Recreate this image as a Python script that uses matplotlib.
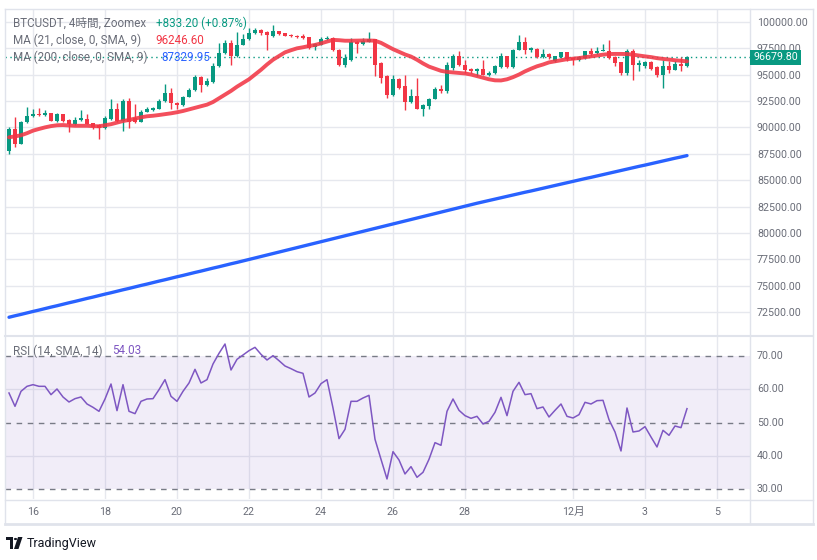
import matplotlib
matplotlib.use('Agg')
import matplotlib.pyplot as plt
import numpy as np
from matplotlib.patches import Rectangle, Polygon, Circle
from matplotlib.lines import Line2D

# ---------------- data (4h candles, BTCUSDT) ----------------
opens = [87810, 89840, 88440, 90530, 91090, 91310, 91160, 91340, 90620, 91250,
         90720, 90340, 90690, 90780, 90380, 90220, 89910, 90780, 91780, 90620,
         92500, 90840, 90530, 91500, 91660, 91780, 92500, 93220, 92340, 92090,
         92910, 93530, 94780, 94000, 94280, 95780, 97030, 97970, 96720, 97810,
         98340, 98910, 99220, 99060, 98660, 99090, 98910, 98780, 98690, 98620,
         98530, 97590, 97810, 98340, 98440, 97340, 95940, 96340, 98060, 97910,
         98120, 98340, 96090, 94840, 93030, 94590, 93910, 92410, 92970, 91780,
         92030, 92720, 93660, 93440, 95620, 96720, 95940, 95560, 95310, 95560,
         95000, 95160, 95720, 96720, 95690, 97340, 98120, 97340, 97410, 96660,
         96910, 96250, 96660, 97090, 96560, 96340, 96560, 97190, 97030, 97250,
         97250, 96660, 96160, 95160, 97190, 95940, 95840, 96160, 95720, 95000,
         95780, 95470, 96000, 95780]
highs = [90000, 90940, 90620, 91970, 91780, 91870, 91660, 91400, 91400, 91310,
         90810, 90940, 91660, 91250, 90440, 90280, 91090, 92660, 92340, 92720,
         92810, 92190, 91600, 91910, 91940, 92660, 94060, 93690, 92400, 92970,
         93750, 95000, 94840, 94690, 96090, 97940, 98280, 98280, 99060, 98810,
         99380, 99380, 99290, 99160, 99690, 99160, 98970, 98840, 98780, 98880,
         98560, 98000, 98590, 98660, 98530, 97440, 96900, 98440, 98220, 98440,
         99060, 98400, 96160, 94910, 95000, 94660, 94970, 93590, 94690, 92190,
         92780, 93780, 93970, 96160, 96900, 97250, 96340, 95620, 95620, 96340,
         95310, 95940, 97030, 96780, 97440, 98750, 98590, 97620, 97470, 97410,
         97000, 96780, 97160, 97160, 96620, 96720, 97250, 97470, 97590, 97910,
         98280, 96720, 96220, 97410, 97410, 96400, 96280, 96250, 95780, 96340,
         96250, 96250, 96660, 96780]
lows = [87500, 88120, 88400, 90440, 91000, 91120, 91090, 90560, 90530, 90470,
        89530, 90250, 90600, 90280, 89840, 88910, 89840, 90720, 90530, 89690,
        89970, 90440, 90470, 91440, 91590, 91720, 92440, 91720, 91720, 92030,
        92840, 93470, 93340, 93910, 94220, 95720, 96970, 95880, 96660, 97750,
        98280, 98840, 98780, 97340, 98590, 98780, 98620, 98560, 98470, 98410,
        97440, 97340, 97750, 98250, 97220, 95780, 95700, 96280, 97030, 97840,
        98060, 94840, 94220, 92810, 92970, 93660, 91660, 92340, 91720, 91030,
        91720, 92660, 93280, 93220, 95470, 95780, 95160, 95190, 94840, 94940,
        94900, 95090, 95660, 95620, 95620, 97280, 96940, 97090, 96590, 96590,
        96500, 96160, 96600, 96280, 95880, 96280, 96500, 96720, 96970, 97190,
        96500, 95780, 94940, 94940, 94470, 95310, 95620, 95470, 94780, 93690,
        95160, 95400, 95310, 95720]
closes = [89840, 88440, 90470, 91090, 91310, 91190, 91340, 90620, 91250, 90620,
          90310, 90720, 90840, 90310, 90000, 89910, 90840, 91780, 90620, 92500,
          90470, 90530, 91470, 91720, 91870, 92500, 93220, 92340, 92090, 92910,
          93530, 94780, 93970, 94380, 95780, 97030, 97970, 96720, 97810, 98340,
          98910, 99220, 98910, 98750, 99090, 98880, 98690, 98620, 98530, 98470,
          97500, 97910, 98340, 98470, 97280, 95940, 96560, 98120, 97910, 98220,
          98340, 95940, 94690, 93030, 94590, 93750, 92410, 92970, 91780, 92090,
          92720, 93660, 93440, 95940, 96720, 95940, 95470, 95310, 95560, 95000,
          95190, 95780, 96720, 95690, 97340, 98120, 97340, 97530, 96660, 96940,
          96690, 96720, 97090, 96470, 96410, 96660, 97190, 96940, 97250, 97310,
          96560, 96090, 95160, 97190, 95940, 96090, 96160, 95530, 95000, 95780,
          95470, 96000, 95780, 96680]
ma21 = [89060, 89150, 89250, 89450, 89690, 89850, 90000, 90120, 90200, 90220,
        90180, 90150, 90150, 90150, 90120, 90100, 90200, 90300, 90450, 90600,
        90700, 90830, 90950, 91050, 91100, 91170, 91250, 91330, 91430, 91550,
        91700, 91850, 92000, 92150, 92400, 92750, 93100, 93450, 93850, 94200,
        94550, 95000, 95450, 95950, 96400, 96750, 97100, 97300, 97480, 97580,
        97700, 97800, 97950, 98120, 98280, 98250, 98200, 98200, 98210, 98220,
        98220, 98200, 98000, 97700, 97400, 97150, 96900, 96700, 96400, 96050,
        95750, 95550, 95350, 95250, 95200, 95150, 95100, 95000, 94850, 94700,
        94550, 94450, 94440, 94550, 94750, 95000, 95300, 95550, 95780, 95950,
        96150, 96250, 96350, 96450, 96500, 96560, 96640, 96720, 96800, 96880,
        96940, 96950, 96950, 96940, 96880, 96800, 96720, 96650, 96550, 96480,
        96420, 96350, 96300, 96247]
ma200 = [72030, 72170, 72300, 72440, 72580, 72710, 72850, 72990, 73120, 73260,
         73400, 73530, 73670, 73810, 73940, 74080, 74220, 74350, 74490, 74630,
         74760, 74900, 75040, 75170, 75310, 75450, 75580, 75720, 75860, 75990,
         76130, 76270, 76400, 76540, 76680, 76810, 76950, 77090, 77220, 77360,
         77500, 77640, 77780, 77920, 78060, 78200, 78340, 78480, 78620, 78760,
         78900, 79040, 79180, 79320, 79460, 79600, 79740, 79880, 80020, 80160,
         80300, 80440, 80580, 80720, 80860, 81000, 81140, 81280, 81420, 81560,
         81700, 81840, 81980, 82120, 82260, 82400, 82540, 82680, 82820, 82950,
         83080, 83210, 83340, 83470, 83600, 83730, 83860, 83980, 84110, 84240,
         84370, 84500, 84630, 84760, 84890, 85020, 85150, 85270, 85400, 85530,
         85660, 85790, 85920, 86050, 86180, 86310, 86430, 86560, 86690, 86820,
         86950, 87080, 87200, 87330]
rsi = [58.9, 54.9, 59.4, 60.9, 61.4, 60.9, 60.9, 58.4, 60.1, 57.7,
       56.2, 57.2, 57.7, 55.6, 54.6, 53.4, 57.1, 61.6, 53.6, 61.4,
       53.4, 52.7, 56.4, 57.1, 57.2, 59.9, 62.9, 57.9, 56.4, 59.4,
       61.9, 66.0, 61.9, 62.9, 67.6, 70.8, 73.6, 65.8, 69.0, 70.3,
       71.6, 72.6, 70.5, 68.8, 70.1, 68.6, 67.0, 66.2, 65.3, 64.8,
       57.7, 58.9, 61.7, 62.9, 54.4, 45.2, 48.0, 56.4, 56.4, 57.4,
       58.2, 45.0, 39.0, 33.1, 41.3, 38.8, 34.6, 36.8, 33.6, 35.1,
       39.0, 44.0, 43.2, 53.4, 57.1, 53.7, 52.1, 51.3, 51.9, 49.6,
       50.4, 53.1, 57.6, 52.1, 59.4, 62.1, 58.4, 58.7, 54.2, 54.7,
       51.7, 53.7, 55.6, 51.9, 51.4, 52.4, 56.1, 55.6, 56.6, 56.7,
       50.9, 47.2, 41.5, 54.4, 47.2, 47.5, 48.8, 45.7, 42.7, 47.7,
       46.2, 49.0, 48.5, 54.2]
last_price = 96679.80
tick_labels = ['16', '18', '20', '22', '24', '26', '28', '12月', '3', '5']
price_ticks = [72500, 75000, 77500, 80000, 82500, 85000, 87500, 90000, 92500, 95000, 97500, 100000]
rsi_ticks = [30, 40, 50, 60, 70]

# ---------------- style ----------------
GREEN = '#089981'
RED = '#f23645'
BLUE = '#2962ff'
PURPLE = '#7e57c2'
GRID = '#e6e8ee'
TXT = '#6a6d78'
FAM = ['Roboto', 'Noto Sans CJK JP', 'DejaVu Sans']
plt.rcParams['font.family'] = FAM

W, H = 817, 560
fig = plt.figure(figsize=(W / 100, H / 100), dpi=100)
fig.patch.set_facecolor('white')

def fx(x):
    return x / W

def fy(y):
    return 1 - y / H

# candle i sits at pixel 9 + 6 i ; ticks (16th 00:00 is candle 4, 6 candles/day)
tick_pos = [4, 16, 28, 40, 52, 64, 76, 94, 106, 118]
xlim = (-4 / 6, 741 / 6)

ax = fig.add_axes([fx(5), fy(335), fx(750) - fx(5), fy(9) - fy(335)])
axr = fig.add_axes([fx(5), fy(499), fx(750) - fx(5), fy(336) - fy(499)])

for a in (ax, axr):
    a.set_xlim(*xlim)
    for s in a.spines.values():
        s.set_visible(False)
    a.set_xticks(tick_pos)
    a.grid(True, color=GRID, lw=1, zorder=0)
    a.set_axisbelow(True)
    a.yaxis.tick_right()
    a.tick_params(axis='y', length=0, pad=5, labelsize=7.7, labelcolor=TXT)

# main pane
sc = 0.010567
ax.set_ylim(100000 - (335 - 21.7) / sc, 100000 + (21.7 - 9) / sc)
ax.set_yticks(price_ticks)
ax.set_yticklabels([f'{v:.2f}' for v in price_ticks])
ax.tick_params(axis='x', length=0, labelbottom=False)

idx = np.arange(len(opens))
o = np.array(opens, float)
c = np.array(closes, float)
col = np.where(c >= o, GREEN, RED)
ax.vlines(idx, lows, highs, colors=col, lw=1, zorder=2)
ax.bar(idx, np.maximum(np.abs(c - o), 90), bottom=np.minimum(o, c), width=0.72,
       color=col, lw=0, zorder=3)
ax.plot(idx, ma200, color=BLUE, lw=2.4, zorder=4, solid_capstyle='round')
ax.plot(idx, ma21, color=RED, lw=2.8, alpha=0.88, zorder=4, solid_capstyle='round')
ax.axhline(last_price, color=GREEN, lw=1, ls=(0, (1, 2.5)), zorder=1)

# RSI pane
rs = 133.3 / 40
axr.set_ylim(30 - (499 - 489.3) / rs, 70 + (356 - 336) / rs)
axr.set_yticks([40, 60])
axr.set_yticklabels([])
axr.axhspan(30, 70, color=PURPLE, alpha=0.1, lw=0, zorder=1)
for lv in (70, 50, 30):
    axr.axhline(lv, color='#787b86', lw=1, ls=(0, (4, 4)), zorder=2)
axr.plot(idx, rsi, color=PURPLE, lw=1.1, zorder=3)
axr.set_xticklabels(tick_labels)
axr.tick_params(axis='x', length=0, pad=6, labelsize=7.7, labelcolor=TXT)
for v in rsi_ticks:
    ypix = 356 + (70 - v) * rs
    fig.text(fx(757), fy(ypix), f'{v:.2f}', fontsize=7.7, color=TXT, va='center', ha='left')

# frame lines
def fline(x0, y0, x1, y1, color='#e0e3eb', lw=1.0):
    fig.add_artist(Line2D([fx(x0), fx(x1)], [fy(y0), fy(y1)], color=color, lw=lw,
                          transform=fig.transFigure))

fline(5, 9, 813, 9)
fline(5, 9, 5, 524)
fline(813, 9, 813, 524)
fline(750, 9, 750, 524)
fline(5, 335.5, 813, 335.5, lw=1.5)
fline(5, 499.5, 813, 499.5)
fline(5, 524, 813, 524, lw=2)

# current price label
fig.add_artist(Rectangle((fx(750), fy(64.5)), fx(801) - fx(750), fy(50.5) - fy(64.5),
                         transform=fig.transFigure, color=GREEN, lw=0, zorder=5))
fig.text(fx(776), fy(57.5), f'{last_price:.2f}', fontsize=7.7, color='white',
         ha='center', va='center', zorder=6)

# legends
fs = 8.4
fig.text(fx(13), fy(23), 'BTCUSDT, 4時間, Zoomex', fontsize=fs, color=TXT, va='center')
fig.text(fx(156), fy(23), '+833.20 (+0.87%)', fontsize=fs, color=GREEN, va='center')
fig.text(fx(13), fy(40.5), 'MA (21, close, 0, SMA, 9)', fontsize=fs, color=TXT, va='center')
fig.text(fx(155), fy(40.5), '96246.60', fontsize=fs, color=RED, va='center')
fig.text(fx(13), fy(57.5), 'MA (200, close, 0, SMA, 9)', fontsize=fs, color=TXT, va='center')
fig.text(fx(161), fy(57.5), '87329.95', fontsize=fs, color=BLUE, va='center')
fig.text(fx(13), fy(351), 'RSI (14, SMA, 14)', fontsize=fs, color=TXT, va='center')
fig.text(fx(112), fy(351), '54.03', fontsize=fs, color=PURPLE, va='center')

# TradingView logo
k = '#131722'
fig.add_artist(Rectangle((fx(6), fy(540)), fx(13) - fx(6), fy(537) - fy(540),
                         transform=fig.transFigure, color=k, lw=0))
fig.add_artist(Rectangle((fx(10), fy(549)), fx(13) - fx(10), fy(537) - fy(549),
                         transform=fig.transFigure, color=k, lw=0))
fig.add_artist(Polygon([(fx(18), fy(537)), (fx(22.5), fy(537)), (fx(18.5), fy(549)), (fx(14), fy(549))],
                       closed=True, transform=fig.transFigure, color=k, lw=0))
fig.add_artist(Circle((fx(15.5), fy(539)), 1.6 / W, transform=fig.transFigure, color=k, lw=0))
fig.text(fx(27), fy(543.5), 'TradingView', fontsize=9, color=k, va='center', ha='left')

fig.savefig('out.png', dpi=100, facecolor='white')
